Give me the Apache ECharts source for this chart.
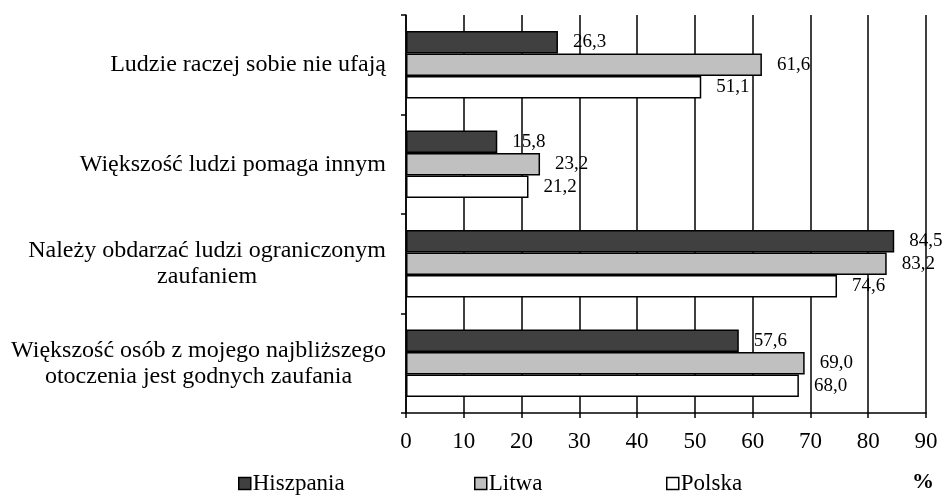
<!DOCTYPE html>
<html>
<head>
<meta charset="utf-8">
<script src="https://cdn.jsdelivr.net/npm/echarts@6/dist/echarts.min.js"></script>
<style>
  html, body { margin: 0; padding: 0; background: #fff; }
  #chart { width: 943px; height: 495px; }
</style>
</head>
<body>
<div id="chart"></div>
<script>
const categories = [
  "Ludzie raczej sobie nie ufają",
  "Większość ludzi pomaga innym",
  "Należy obdarzać ludzi ograniczonym\nzaufaniem",
  "Większość osób z mojego najbliższego\notoczenia jest godnych zaufania",
];
const seriesNames = ["Hiszpania", "Litwa", "Polska"];
const hiszpania = [26.3, 15.8, 84.5, 57.6];
const litwa = [61.6, 23.2, 83.2, 69.0];
const polska = [51.1, 21.2, 74.6, 68.0];
const barColors = ["#404040", "#c0c0c0", "#ffffff"];

const font = "'Liberation Serif', 'DejaVu Serif', serif";
const chart = echarts.init(document.getElementById("chart"));

const makeSeries = (name, data, color) => ({
  name,
  type: "bar",
  data,
  barGap: "0%",
  barCategoryGap: "32%",
  itemStyle: { color, borderColor: "#000", borderWidth: 1.5 },
  label: {
    show: true,
    position: "right",
    distance: 15,
    color: "#000",
    fontFamily: font,
    fontSize: 19,
    formatter: (p) => p.value.toFixed(1).replace(".", ","),
  },
});

// Excel-style legend: each entry in its own slot
const legendAt = (name, left) => ({
  data: [name],
  left,
  top: 472,
  icon: "rect",
  itemWidth: 12,
  itemHeight: 12,
  itemGap: 3,
  padding: 0,
  selectedMode: false,
  itemStyle: { borderColor: "#000", borderWidth: 1.5 },
  textStyle: { fontFamily: font, fontSize: 23, color: "#000", padding: [0, 0, 0, -3] },
});

chart.setOption({
  animation: false,
  backgroundColor: "#fff",
  grid: { left: 406, right: 17, top: 15, bottom: 82 },
  legend: [
    legendAt(seriesNames[0], 238),
    legendAt(seriesNames[1], 474),
    legendAt(seriesNames[2], 666),
  ],
  graphic: [
    {
      type: "text",
      left: 912,
      top: 471,
      style: { text: "%", font: "bold 22px " + font, fill: "#000" },
    },
  ],
  xAxis: {
    type: "value",
    min: 0,
    max: 90,
    interval: 10,
    axisLine: { show: true, lineStyle: { color: "#000", width: 1.5 } },
    axisTick: { show: true, length: 5, lineStyle: { color: "#000", width: 1.5 } },
    axisLabel: { color: "#000", fontFamily: font, fontSize: 23, margin: 17 },
    splitLine: { show: true, lineStyle: { color: "#000", width: 1.5 } },
  },
  yAxis: {
    type: "category",
    inverse: true,
    data: categories,
    axisLine: { show: true, lineStyle: { color: "#000", width: 1.5 } },
    axisTick: { show: true, length: 5, lineStyle: { color: "#000", width: 1.5 } },
    axisLabel: {
      color: "#000",
      fontFamily: font,
      fontSize: 24,
      align: "right",
      margin: 20,
      lineHeight: 26,
      formatter: (v) => v.split("\n").map((s) => "{c|" + s + "}").join("\n"),
      rich: { c: { align: "center", fontFamily: font, fontSize: 24, lineHeight: 26, color: "#000" } },
    },
  },
  series: [
    makeSeries(seriesNames[0], hiszpania, barColors[0]),
    makeSeries(seriesNames[1], litwa, barColors[1]),
    makeSeries(seriesNames[2], polska, barColors[2]),
  ],
});
</script>
</body>
</html>
